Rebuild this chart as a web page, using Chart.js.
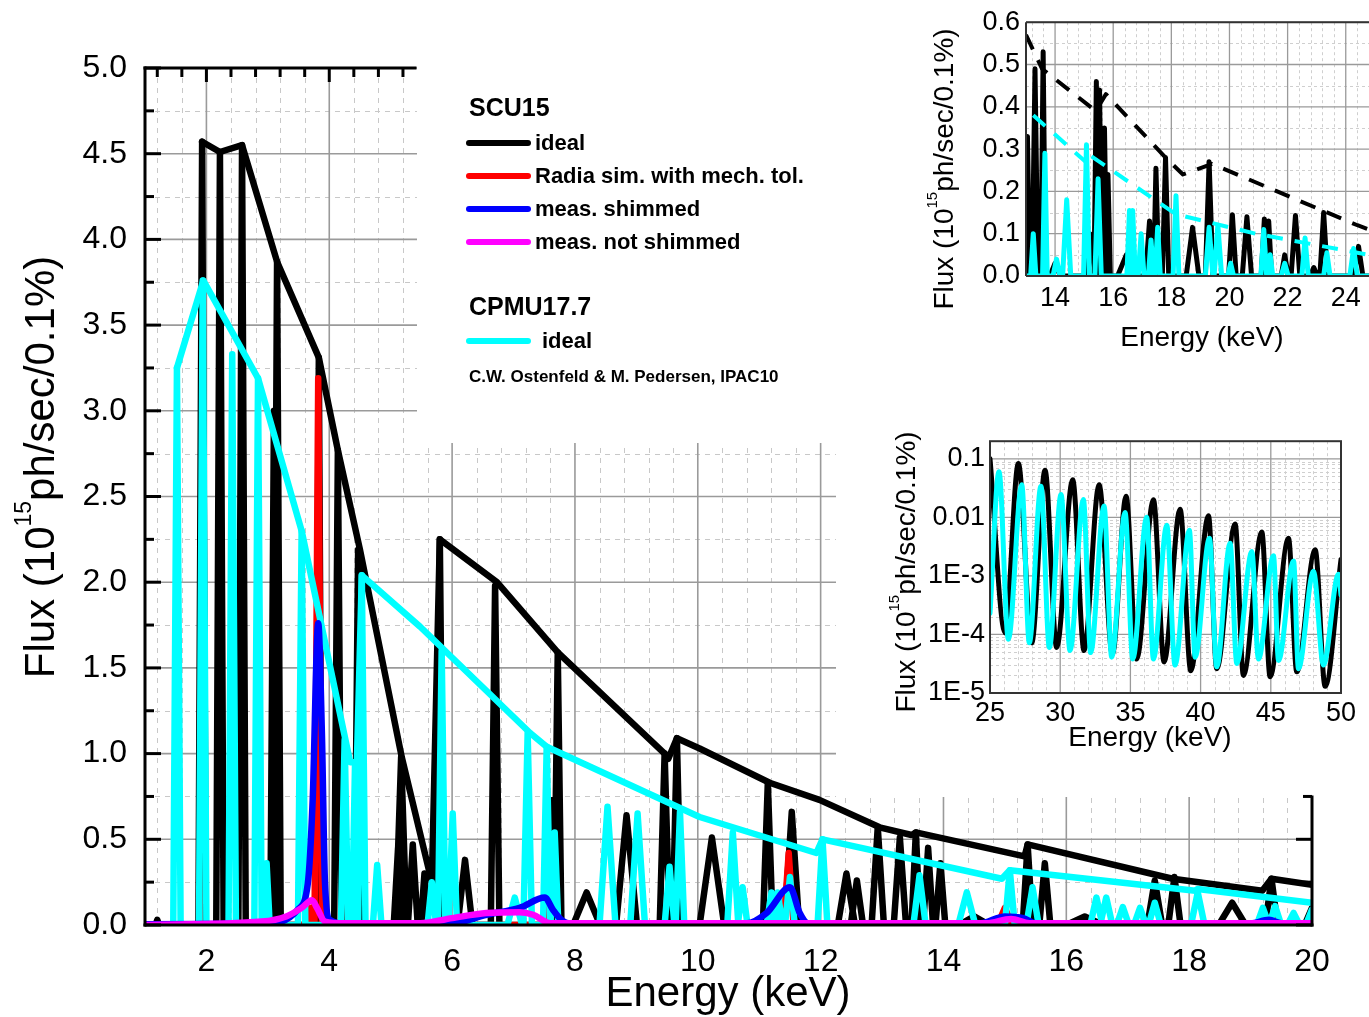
<!DOCTYPE html>
<html>
<head>
<meta charset="utf-8">
<script src="https://cdn.jsdelivr.net/npm/chart.js@4.4.1/dist/chart.umd.min.js"></script>
<style>
  html, body { margin: 0; padding: 0; background: #fff; }
  #wrap { position: relative; width: 1369px; height: 1017px; overflow: hidden; }
  canvas { position: absolute; }
  #main { left: 0; top: 0; }
  #ins1 { left: 838px; top: 0; }
  #ins2 { left: 838px; top: 420px; }
</style>
</head>
<body>
<div id="wrap">
  <canvas id="main" width="1369" height="1017"></canvas>
  <canvas id="ins1" width="531" height="420"></canvas>
  <canvas id="ins2" width="531" height="377"></canvas>
</div>
<script>
const FONT = '"Liberation Sans", Arial, Helvetica, sans-serif';

// ---------------- main plot: 1 - 20 keV, flux in 1e15 ph/s/0.1% ----------------
// envelope (tuning curve) of SCU15 ideal, [keV, flux]
const scuIdealEnvelope = [
  [1.93, 4.57], [2.22, 4.51], [2.58, 4.55], [3.15, 3.87], [3.83, 3.31], [4.14, 2.77],
  [4.5, 2.19], [5.18, 0.98], [5.67, 0.25], [5.8, 2.25], [6.73, 2.0], [7.72, 1.59],
  [9.46, 1.0], [9.52, 0.97], [9.66, 1.09], [10.03, 1.03], [11.17, 0.83], [11.98, 0.73],
  [12.96, 0.57], [13.48, 0.525], [13.55, 0.54], [15.32, 0.40], [15.37, 0.47],
  [17.73, 0.27], [19.19, 0.20], [19.34, 0.27], [20.0, 0.235]
];
// harmonic peaks: [centre keV, height, half width keV]
const scuIdealPeaks = [
  [1.2, 0.03, 0.03], [1.93, 4.57, 0.06], [2.22, 4.51, 0.06], [2.58, 4.55, 0.06],
  [3.1, 3.0, 0.06], [3.15, 3.87, 0.06], [3.83, 3.31, 0.05], [4.14, 2.77, 0.06],
  [4.47, 2.19, 0.06], [5.12, 0.45, 0.07], [5.17, 0.98, 0.09], [5.36, 0.47, 0.08],
  [5.55, 0.3, 0.06], [5.8, 2.25, 0.06], [6.21, 0.38, 0.12], [6.7, 1.98, 0.07],
  [7.64, 0.73, 0.06], [7.72, 1.59, 0.06], [8.19, 0.19, 0.22], [8.84, 0.64, 0.17],
  [9.46, 1.0, 0.08], [9.66, 1.09, 0.07], [10.23, 0.51, 0.2], [11.14, 0.83, 0.08],
  [11.53, 0.66, 0.12], [12.42, 0.30, 0.14], [12.59, 0.26, 0.1], [12.93, 0.57, 0.1],
  [13.29, 0.51, 0.1], [13.55, 0.54, 0.07], [13.75, 0.45, 0.08], [13.95, 0.36, 0.08],
  [14.5, 0.05, 0.25], [15.37, 0.47, 0.08], [15.65, 0.36, 0.09], [16.3, 0.05, 0.3],
  [17.44, 0.26, 0.12], [17.76, 0.28, 0.1], [18.7, 0.13, 0.22], [19.34, 0.27, 0.1],
  [20.0, 0.10, 0.12]
];
const radiaPeaks = [
  [3.7, 0.1, 0.06], [3.82, 3.19, 0.06], [7.55, 0.18, 0.07], [11.48, 0.42, 0.08],
  [15.0, 0.10, 0.12], [19.35, 0.05, 0.1]
];
const measShimmed = [
  [1.0, 0.005], [3.07, 0.01], [3.49, 0.09], [3.65, 0.24], [3.73, 0.73], [3.82, 1.76],
  [3.88, 1.12], [3.93, 0.25], [4.01, 0.03], [4.3, 0.005], [6.0, 0.01], [6.56, 0.06],
  [7.1, 0.10], [7.51, 0.16], [7.64, 0.09], [7.75, 0.04], [7.9, 0.01], [10.8, 0.01],
  [11.12, 0.07], [11.5, 0.22], [11.66, 0.07], [11.8, 0.01], [14.6, 0.01], [15.0, 0.05],
  [15.3, 0.04], [15.5, 0.01], [19.0, 0.01], [19.3, 0.03], [19.5, 0.01], [20.0, 0.01]
];
const measNotShimmed = [
  [1.0, 0.0], [2.9, 0.02], [3.3, 0.05], [3.55, 0.10], [3.72, 0.145], [3.8, 0.10],
  [3.93, 0.02], [4.25, 0.01], [5.48, 0.01], [6.0, 0.04], [6.56, 0.07], [7.1, 0.075],
  [7.32, 0.06], [7.6, 0.01], [10.0, 0.01], [14.7, 0.01], [15.1, 0.035], [15.4, 0.01],
  [20.0, 0.01]
];
const cpmuEnvelope = [
  [1.52, 3.25], [1.95, 3.76], [2.84, 3.19], [3.55, 2.30], [4.34, 0.95], [4.45, 0.95],
  [4.53, 2.04], [5.48, 1.74], [7.27, 1.12], [7.54, 1.04], [10.03, 0.63], [11.93, 0.42],
  [12.03, 0.50], [14.95, 0.27], [15.08, 0.32], [18.1, 0.20], [18.14, 0.21], [20.0, 0.13]
];
const cpmuPeaks = [
  [1.52, 3.25, 0.06], [1.94, 3.76, 0.06], [2.42, 3.33, 0.06], [2.84, 3.19, 0.06],
  [2.98, 0.36, 0.05], [3.55, 2.30, 0.06], [4.25, 1.08, 0.06], [4.42, 0.95, 0.05],
  [4.53, 2.04, 0.06], [4.78, 0.35, 0.07], [5.67, 0.25, 0.07], [5.83, 1.60, 0.06],
  [6.01, 0.65, 0.07], [7.02, 0.16, 0.12], [7.23, 1.12, 0.07], [7.54, 1.04, 0.06],
  [7.67, 0.54, 0.06], [8.53, 0.69, 0.13], [9.02, 0.65, 0.12], [9.54, 0.34, 0.08],
  [9.71, 0.66, 0.07], [10.57, 0.54, 0.09], [10.73, 0.22, 0.08], [11.2, 0.19, 0.08],
  [11.3, 0.19, 0.08], [11.5, 0.28, 0.08], [12.03, 0.50, 0.08], [13.61, 0.29, 0.1],
  [14.38, 0.19, 0.14], [15.08, 0.32, 0.08], [15.45, 0.22, 0.1], [16.49, 0.16, 0.1],
  [16.65, 0.16, 0.1], [16.92, 0.105, 0.1], [17.2, 0.10, 0.1], [17.44, 0.13, 0.1],
  [18.14, 0.19, 0.11], [19.2, 0.10, 0.1], [19.4, 0.11, 0.1], [19.7, 0.07, 0.1],
  [20.0, 0.09, 0.1]
];
const mainXTicks = [2, 4, 6, 8, 10, 12, 14, 16, 18, 20];
const mainYTicks = [0, 0.5, 1, 1.5, 2, 2.5, 3, 3.5, 4, 4.5, 5];

// ---------------- inset 1: 13 - 24.8 keV ----------------
const ins1ScuPeaks = [
  [13.05, 0.33, 0.08], [13.31, 0.49, 0.1], [13.59, 0.53, 0.08], [14.0, 0.03, 0.18],
  [15.2, 0.10, 0.18], [15.42, 0.46, 0.08], [15.53, 0.44, 0.08], [15.7, 0.35, 0.08],
  [15.82, 0.24, 0.08], [16.45, 0.05, 0.3], [17.25, 0.13, 0.14], [17.47, 0.255, 0.1],
  [17.8, 0.28, 0.11], [18.73, 0.115, 0.22], [19.3, 0.27, 0.13], [20.1, 0.145, 0.13],
  [20.6, 0.14, 0.16], [21.2, 0.135, 0.11], [21.35, 0.13, 0.1], [21.9, 0.05, 0.12],
  [22.27, 0.143, 0.15], [22.9, 0.02, 0.12], [23.24, 0.15, 0.13], [24.44, 0.07, 0.15]
];
const ins1CpmuPeaks = [
  [13.25, 0.10, 0.09], [13.65, 0.29, 0.08], [14.05, 0.04, 0.12], [14.4, 0.18, 0.14],
  [15.08, 0.31, 0.1], [15.48, 0.23, 0.11], [16.56, 0.155, 0.09], [16.67, 0.155, 0.09],
  [16.96, 0.10, 0.1], [17.3, 0.085, 0.09], [17.53, 0.115, 0.09], [18.16, 0.19, 0.1],
  [19.3, 0.115, 0.13], [19.6, 0.12, 0.13], [20.04, 0.03, 0.1], [21.18, 0.11, 0.1],
  [21.4, 0.05, 0.09], [21.9, 0.03, 0.12], [22.6, 0.09, 0.11], [23.35, 0.055, 0.11],
  [24.27, 0.065, 0.13]
];
const ins1ScuEnvelope = [
  [13.0, 0.57], [13.55, 0.49], [15.4, 0.39], [15.75, 0.43], [17.8, 0.28], [18.4, 0.24],
  [19.4, 0.265], [24.4, 0.12], [24.8, 0.11]
];
const ins1CpmuEnvelope = [
  [13.25, 0.38], [15.05, 0.27], [15.1, 0.29], [18.16, 0.146], [20.9, 0.10], [24.8, 0.05]
];
const ins1XTicks = [14, 16, 18, 20, 22, 24];
const ins1YTicks = [0, 0.1, 0.2, 0.3, 0.4, 0.5, 0.6];

// ---------------- inset 2: 25 - 50 keV, log scale ----------------
const ins2Scu = [
  [25.0, 0.1], [26.07, 1.07e-4], [27.02, 0.083], [27.97, 7.2e-5], [28.92, 0.064],
  [29.75, 6.0e-5], [30.89, 0.044], [31.70, 5.3e-5], [32.77, 0.036], [33.72, 4.6e-5],
  [34.69, 0.023], [35.45, 3.8e-5], [36.64, 0.020], [37.40, 3.4e-5], [38.54, 0.0138],
  [39.30, 2.4e-5], [40.56, 0.0107], [41.15, 2.6e-5], [42.46, 0.0077], [43.05, 2.0e-5],
  [44.36, 0.0056], [44.95, 1.9e-5], [46.26, 0.0044], [46.85, 2.3e-5], [48.16, 0.0028],
  [48.87, 1.3e-5], [50.0, 0.0019]
];
const ins2Cpmu = [
  [25.0, 2.3e-4], [25.64, 0.060], [26.31, 8.3e-5], [27.26, 0.036], [27.80, 7.2e-5],
  [28.63, 0.034], [29.23, 6.0e-5], [30.06, 0.0245], [30.70, 5.3e-5], [31.65, 0.0202],
  [32.17, 4.9e-5], [33.12, 0.0156], [33.67, 4.1e-5], [34.62, 0.0121], [35.17, 3.8e-5],
  [36.16, 0.0100], [36.64, 3.8e-5], [37.59, 0.0073], [38.18, 3.0e-5], [39.20, 0.0060],
  [39.61, 4.1e-5], [40.63, 0.0044], [41.15, 2.8e-5], [42.10, 0.0036], [42.58, 3.2e-5],
  [43.65, 0.0026], [44.12, 3.8e-5], [45.19, 0.0022], [45.55, 3.6e-5], [46.62, 0.0018],
  [46.97, 2.6e-5], [48.04, 0.0012], [48.75, 3.0e-5], [49.82, 0.00107], [50.0, 4.7e-4]
];
const ins2XTicks = [25, 30, 35, 40, 45, 50];
const ins2YTicks = [1e-5, 1e-4, 1e-3, 0.01, 0.1];
const ins2YLabels = ['1E-5', '1E-4', '1E-3', '0.01', '0.1'];

// legend
const legendRows = [
  { label: 'ideal', color: '#000000' },
  { label: 'Radia sim. with mech. tol.', color: '#ff0000' },
  { label: 'meas. shimmed', color: '#0000ff' },
  { label: 'meas. not shimmed', color: '#ff00ff' }
];

// ---------------- helpers ----------------
const pairs = a => a.map(([x, y]) => ({ x, y }));
function peakLine(peaks, x0, x1) {
  const pts = [{ x: x0, y: 0 }];
  peaks.forEach(([c, h, w]) => {
    pts.push({ x: c - w, y: 0 }, { x: c, y: h }, { x: c + w, y: 0 });
  });
  pts.push({ x: x1, y: 0 });
  return pts;
}
function seg(ctx, x0, y0, x1, y1) {
  ctx.beginPath(); ctx.moveTo(x0, y0); ctx.lineTo(x1, y1); ctx.stroke();
}
function fluxTitle(ctx, cx, cy, size) {
  ctx.save();
  ctx.translate(cx, cy);
  ctx.rotate(-Math.PI / 2);
  ctx.fillStyle = '#000';
  ctx.textBaseline = 'middle';
  ctx.textAlign = 'left';
  const a = 'Flux (10', s = '15', b = 'ph/sec/0.1%)';
  ctx.font = size + 'px ' + FONT;
  const wa = ctx.measureText(a).width, wb = ctx.measureText(b).width;
  ctx.font = Math.round(size * 0.55) + 'px ' + FONT;
  const ws = ctx.measureText(s).width;
  let x = -(wa + ws + wb) / 2;
  ctx.font = size + 'px ' + FONT;
  ctx.fillText(a, x, 0); x += wa;
  ctx.font = Math.round(size * 0.55) + 'px ' + FONT;
  ctx.fillText(s, x, -size * 0.42); x += ws;
  ctx.font = size + 'px ' + FONT;
  ctx.fillText(b, x, 0);
  ctx.restore();
}
function lineSet(data, color, width, order, extra) {
  return Object.assign({
    data, borderColor: color, backgroundColor: color, borderWidth: width,
    pointRadius: 0, tension: 0, fill: false, order,
    borderJoinStyle: 'round', borderCapStyle: 'round'
  }, extra || {});
}
function axisOpts(o) {
  return {
    type: o.type || 'linear', min: o.min, max: o.max, position: o.position,
    grid: { display: false, drawTicks: false }, border: { display: false },
    afterBuildTicks: s => { s.ticks = o.ticks.map(v => ({ value: v })); },
    afterFit: s => { if (o.width) s.width = o.width; if (o.height) s.height = o.height; },
    ticks: {
      autoSkip: false, maxRotation: 0, padding: o.pad, color: '#000',
      font: { family: FONT, size: o.font },
      callback: o.label
    }
  };
}

// ---------------- main chart ----------------
const mainFrame = {
  id: 'mainFrame',
  beforeDatasetsDraw(chart) {
    const { ctx, chartArea: a, scales: { x, y } } = chart;
    ctx.save();
    ctx.strokeStyle = '#c8c8c8';
    ctx.lineWidth = 1;
    ctx.setLineDash([5, 5]);
    for (let k = 3; k < 50; k++) {
      if (k % 5 === 0) continue;
      const p = Math.round(x.getPixelForValue(k * 0.4)) + 0.5;
      seg(ctx, p, a.top, p, a.bottom);
    }
    for (let k = 1; k < 20; k += 2) {
      const p = Math.round(y.getPixelForValue(k * 0.25)) + 0.5;
      seg(ctx, a.left, p, a.right, p);
    }
    ctx.setLineDash([]);
    ctx.strokeStyle = '#9a9a9a';
    ctx.lineWidth = 1.6;
    mainXTicks.forEach(v => { const p = x.getPixelForValue(v); seg(ctx, p, a.top, p, a.bottom); });
    mainYTicks.forEach(v => { const p = y.getPixelForValue(v); seg(ctx, a.left, p, a.right, p); });
    // areas left blank for the legend and the insets
    ctx.fillStyle = '#fff';
    ctx.fillRect(417, 0, 419, 443);
    ctx.fillRect(836, 0, 533, 797);
    ctx.restore();
  },
  afterDatasetsDraw(chart) {
    const { ctx, chartArea: a, scales: { x, y } } = chart;
    ctx.save();
    ctx.strokeStyle = '#000';
    ctx.lineWidth = 3;
    ctx.lineCap = 'square';
    seg(ctx, a.left, a.top, a.left, a.bottom);
    seg(ctx, a.left, a.bottom, a.right, a.bottom);
    seg(ctx, a.left, a.top, 415, a.top);
    seg(ctx, a.right, 797, a.right, a.bottom);
    ctx.lineCap = 'butt';
    for (let k = 0; k <= 20; k++) {
      const p = y.getPixelForValue(k * 0.25);
      const len = k % 2 === 0 ? 16 : 9;
      seg(ctx, a.left, p, a.left + len, p);
      if (p >= 796) seg(ctx, a.right, p, a.right - len, p);
    }
    for (let k = 3; k < 50; k++) {
      const p = x.getPixelForValue(k * 0.4);
      if (p > 414) break;
      seg(ctx, p, a.top, p, a.top + (k % 5 === 0 ? 14 : 9));
    }
    ctx.restore();
  },
  afterDraw(chart) {
    const ctx = chart.ctx;
    ctx.save();
    fluxTitle(ctx, 42, 467, 42);
    ctx.fillStyle = '#000';
    ctx.textAlign = 'center';
    ctx.textBaseline = 'middle';
    ctx.font = '42px ' + FONT;
    ctx.fillText('Energy (keV)', 728, 994);

    // legend
    ctx.textAlign = 'left';
    ctx.font = 'bold 25px ' + FONT;
    ctx.fillText('SCU15', 469, 109);
    ctx.lineWidth = 6;
    ctx.lineCap = 'round';
    ctx.font = 'bold 22px ' + FONT;
    legendRows.forEach((r, i) => {
      const yy = 143 + i * 33;
      ctx.strokeStyle = r.color;
      seg(ctx, 469, yy, 528, yy);
      ctx.fillText(r.label, 535, yy + 1);
    });
    ctx.font = 'bold 25px ' + FONT;
    ctx.fillText('CPMU17.7', 469, 308);
    ctx.strokeStyle = '#00ffff';
    seg(ctx, 469, 341, 528, 341);
    ctx.font = 'bold 22px ' + FONT;
    ctx.fillText('ideal', 542, 342);
    ctx.font = 'bold 17px ' + FONT;
    ctx.fillText('C.W. Ostenfeld & M. Pedersen, IPAC10', 469, 377);
    ctx.restore();
  }
};

new Chart(document.getElementById('main'), {
  type: 'line',
  data: {
    datasets: [
      lineSet(pairs(measNotShimmed), '#ff00ff', 6.5, 1, { cubicInterpolationMode: 'monotone' }),
      lineSet(pairs(measShimmed), '#0000ff', 6.5, 2, { cubicInterpolationMode: 'monotone' }),
      lineSet(pairs(cpmuEnvelope), '#00ffff', 6.5, 3),
      lineSet(peakLine(cpmuPeaks, 1, 20), '#00ffff', 6.5, 4),
      lineSet(peakLine(radiaPeaks, 1, 20), '#ff0000', 6.5, 5),
      lineSet(pairs(scuIdealEnvelope), '#000000', 6.5, 6),
      lineSet(peakLine(scuIdealPeaks, 1, 20), '#000000', 6.5, 7)
    ]
  },
  options: {
    responsive: false, animation: false, events: [],
    parsing: false, normalized: true,
    layout: { padding: { top: 68, right: 57, left: 0, bottom: 0 } },
    plugins: { legend: { display: false }, tooltip: { enabled: false } },
    scales: {
      x: axisOpts({ min: 1, max: 20, position: 'bottom', ticks: mainXTicks, font: 32, pad: 18,
        height: 92, label: v => String(v) }),
      y: axisOpts({ min: 0, max: 5, position: 'left', ticks: mainYTicks, font: 32, pad: 18,
        width: 145, label: v => v.toFixed(1) })
    }
  },
  plugins: [mainFrame]
});

// ---------------- inset 1 ----------------
const ins1Frame = {
  id: 'ins1Frame',
  beforeDatasetsDraw(chart) {
    const { ctx, chartArea: a, scales: { x, y } } = chart;
    ctx.save();
    ctx.strokeStyle = '#cfcfcf';
    ctx.lineWidth = 1;
    ctx.setLineDash([3, 3]);
    for (let k = 33; k < 63; k++) {
      if (k % 5 === 0) continue;
      const p = Math.round(x.getPixelForValue(k * 0.4)) + 0.5;
      seg(ctx, p, a.top, p, a.bottom);
    }
    for (let k = 1; k < 12; k += 2) {
      const p = Math.round(y.getPixelForValue(k * 0.05)) + 0.5;
      seg(ctx, a.left, p, a.right, p);
    }
    ctx.setLineDash([]);
    ctx.strokeStyle = '#9a9a9a';
    ctx.lineWidth = 1.3;
    ins1XTicks.forEach(v => { const p = x.getPixelForValue(v); seg(ctx, p, a.top, p, a.bottom); });
    ins1YTicks.forEach(v => { const p = y.getPixelForValue(v); seg(ctx, a.left, p, a.right, p); });
    ctx.restore();
  },
  afterDatasetsDraw(chart) {
    const { ctx, chartArea: a } = chart;
    ctx.save();
    ctx.strokeStyle = '#333';
    ctx.lineWidth = 2;
    seg(ctx, a.left, a.top, a.left, a.bottom);
    seg(ctx, a.left, a.top, a.right, a.top);
    seg(ctx, a.left, a.bottom, a.right, a.bottom);
    ctx.restore();
  },
  afterDraw(chart) {
    const ctx = chart.ctx;
    ctx.save();
    fluxTitle(ctx, 107, 169, 28);
    ctx.fillStyle = '#000';
    ctx.textAlign = 'center';
    ctx.textBaseline = 'middle';
    ctx.font = '28px ' + FONT;
    ctx.fillText('Energy (keV)', 364, 338);
    ctx.restore();
  }
};

new Chart(document.getElementById('ins1'), {
  type: 'line',
  data: {
    datasets: [
      lineSet(pairs(ins1CpmuEnvelope), '#00ffff', 4, 1, { borderDash: [16, 12], borderCapStyle: 'butt' }),
      lineSet(pairs(ins1ScuEnvelope), '#000000', 4, 2, { borderDash: [16, 12], borderCapStyle: 'butt' }),
      lineSet(peakLine(ins1CpmuPeaks, 13, 24.8), '#00ffff', 5, 3),
      lineSet(peakLine(ins1ScuPeaks, 13, 24.8), '#000000', 5, 4)
    ]
  },
  options: {
    responsive: false, animation: false, events: [],
    parsing: false, normalized: true,
    layout: { padding: { top: 19, right: 0, left: 0, bottom: 0 } },
    plugins: { legend: { display: false }, tooltip: { enabled: false } },
    scales: {
      x: axisOpts({ min: 13, max: 24.8, position: 'bottom', ticks: ins1XTicks, font: 27, pad: 6,
        height: 144, label: v => String(v) }),
      y: axisOpts({ min: 0, max: 0.6, position: 'left', ticks: ins1YTicks, font: 27, pad: 6,
        width: 188, label: v => v.toFixed(1) })
    }
  },
  plugins: [ins1Frame]
});

// ---------------- inset 2 ----------------
const ins2Frame = {
  id: 'ins2Frame',
  beforeDatasetsDraw(chart) {
    const { ctx, chartArea: a, scales: { x, y } } = chart;
    ctx.save();
    ctx.strokeStyle = '#cfcfcf';
    ctx.lineWidth = 1;
    ctx.setLineDash([3, 3]);
    for (let k = 26; k < 50; k++) {
      if (k % 5 === 0) continue;
      const p = Math.round(x.getPixelForValue(k)) + 0.5;
      seg(ctx, p, a.top, p, a.bottom);
    }
    for (let e = -5; e <= -1; e++) {
      for (let m = 2; m <= 9; m++) {
        const v = m * Math.pow(10, e);
        if (v > 0.2) break;
        const p = Math.round(y.getPixelForValue(v)) + 0.5;
        seg(ctx, a.left, p, a.right, p);
      }
    }
    ctx.setLineDash([]);
    ctx.strokeStyle = '#9a9a9a';
    ctx.lineWidth = 1.3;
    ins2XTicks.forEach(v => { const p = x.getPixelForValue(v); seg(ctx, p, a.top, p, a.bottom); });
    ins2YTicks.forEach(v => { const p = y.getPixelForValue(v); seg(ctx, a.left, p, a.right, p); });
    ctx.restore();
  },
  afterDatasetsDraw(chart) {
    const { ctx, chartArea: a } = chart;
    ctx.save();
    ctx.strokeStyle = '#333';
    ctx.lineWidth = 2;
    ctx.strokeRect(a.left, a.top, a.right - a.left, a.bottom - a.top);
    ctx.restore();
  },
  afterDraw(chart) {
    const ctx = chart.ctx;
    ctx.save();
    fluxTitle(ctx, 69, 152, 28);
    ctx.fillStyle = '#000';
    ctx.textAlign = 'center';
    ctx.textBaseline = 'middle';
    ctx.font = '28px ' + FONT;
    ctx.fillText('Energy (keV)', 312, 318);
    ctx.restore();
  }
};

new Chart(document.getElementById('ins2'), {
  type: 'line',
  data: {
    datasets: [
      lineSet(pairs(ins2Cpmu), '#00ffff', 5, 1, { cubicInterpolationMode: 'monotone' }),
      lineSet(pairs(ins2Scu), '#000000', 5, 2, { cubicInterpolationMode: 'monotone' })
    ]
  },
  options: {
    responsive: false, animation: false, events: [],
    parsing: false, normalized: true,
    layout: { padding: { top: 15, right: 28, left: 0, bottom: 0 } },
    plugins: { legend: { display: false }, tooltip: { enabled: false } },
    scales: {
      x: axisOpts({ min: 25, max: 50, position: 'bottom', ticks: ins2XTicks, font: 27, pad: 4,
        height: 104, label: v => String(v) }),
      y: axisOpts({ type: 'logarithmic', min: 1e-5, max: 0.2, position: 'left', ticks: ins2YTicks,
        font: 27, pad: 5, width: 152, label: (v, i) => ins2YLabels[i] })
    }
  },
  plugins: [ins2Frame]
});
</script>
</body>
</html>
